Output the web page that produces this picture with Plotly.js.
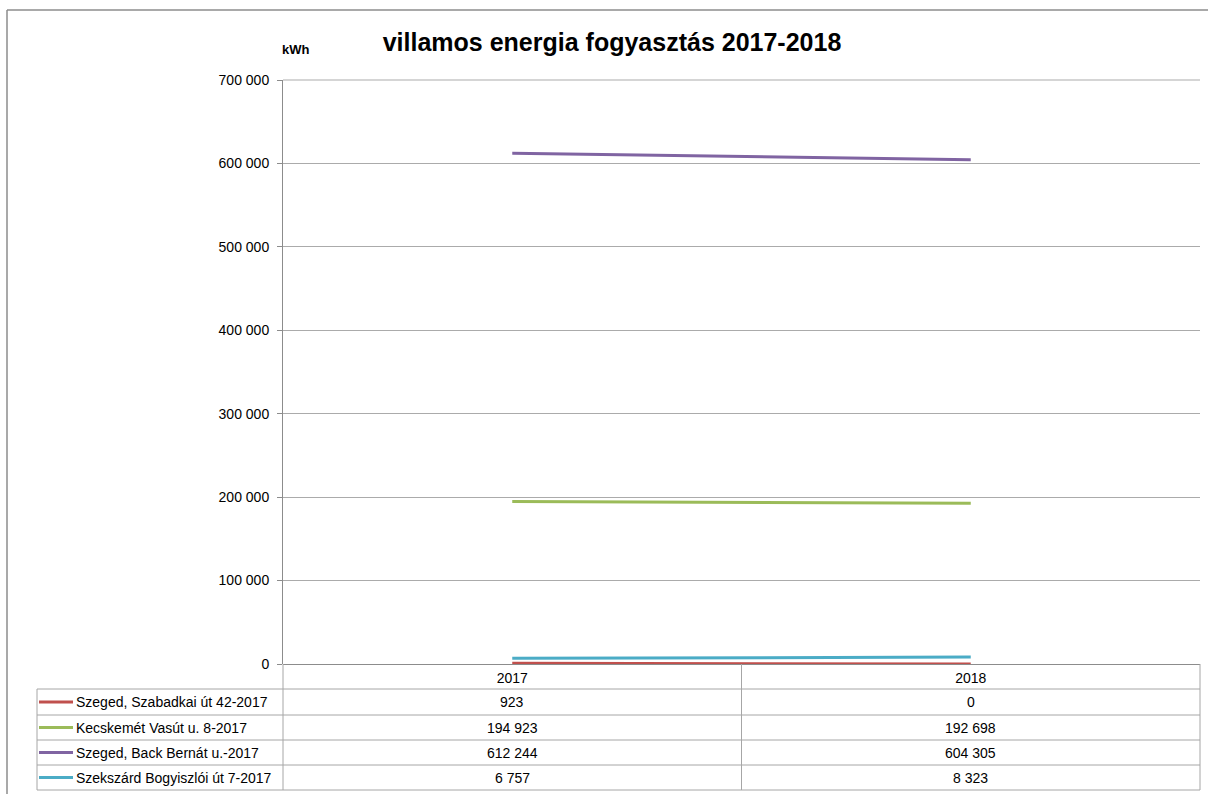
<!DOCTYPE html>
<html>
<head>
<meta charset="utf-8">
<script src="https://cdn.plot.ly/plotly-3.0.1.min.js"></script>
<style>html,body{margin:0;padding:0;background:#fff;}#chart{width:1208px;height:794px;}</style>
</head>
<body>
<div id="chart"></div>
<script>
// ---- data ----
const years = ['2017', '2018'];
const seriesNames = [
  'Szeged, Szabadkai út 42-2017',
  'Kecskemét Vasút u. 8-2017',
  'Szeged, Back Bernát u.-2017',
  'Szekszárd Bogyiszlói út 7-2017'
];
const szabadkai = [923, 0];
const kecskemet = [194923, 192698];
const backBernat = [612244, 604305];
const szekszard = [6757, 8323];
const yTicks = [0, 100000, 200000, 300000, 400000, 500000, 600000, 700000];

// ---- styling ----
const colors = ['#C0504D', '#9BBB59', '#8064A2', '#4BACC6'];
const seriesValues = [szabadkai, kecskemet, backBernat, szekszard];
const FONT = 'Liberation Sans, Arial, sans-serif';

// pixel geometry of plot area
const W = 1208, H = 794;
const L = 283, R = 1200, T = 80, B = 664;
const px = x => (x - L) / (R - L);
const py = y => (B - y) / (B - T);

function fmt(v) {
  return String(v).replace(/\B(?=(\d{3})+(?!\d))/g, '\u00a0');
}

const traces = seriesValues.map((vals, i) => ({
  type: 'scatter',
  mode: 'lines',
  x: years,
  y: vals,
  name: seriesNames[i],
  line: {color: colors[i], width: 3},
  showlegend: false,
  hoverinfo: 'x+y+name'
}));

const gridCol = '#ababab';
const tableCol = '#a6a6a6';
const shapes = [];
const annotations = [];

// outer chart border
shapes.push({type: 'line', xref: 'paper', yref: 'paper', x0: px(7), x1: px(1208), y0: py(10), y1: py(10), line: {color: '#8c8c8c', width: 1.5}});
shapes.push({type: 'line', xref: 'paper', yref: 'paper', x0: px(7), x1: px(7), y0: py(10), y1: py(794), line: {color: '#8c8c8c', width: 1.5}});

// table geometry
const rowTops = [689, 715, 740, 765];
const rowBottom = 790;
const labelLeft = 37;
// vertical lines
[L, (L + R) / 2, R].forEach(x => {
  shapes.push({type: 'line', xref: 'paper', yref: 'paper', x0: px(x), x1: px(x), y0: py(B), y1: py(rowBottom), line: {color: tableCol, width: 1}});
});
shapes.push({type: 'line', xref: 'paper', yref: 'paper', x0: px(labelLeft), x1: px(labelLeft), y0: py(rowTops[0]), y1: py(rowBottom), line: {color: tableCol, width: 1}});
// horizontal lines
rowTops.concat([rowBottom]).forEach(y => {
  shapes.push({type: 'line', xref: 'paper', yref: 'paper', x0: px(labelLeft), x1: px(R), y0: py(y), y1: py(y), line: {color: tableCol, width: 1}});
});

// column centres (paper) for each category
const colCenters = years.map((yr, j) => (j + 0.5) / years.length);

seriesNames.forEach((name, i) => {
  const yc = (rowTops[i] + (i + 1 < rowTops.length ? rowTops[i + 1] : rowBottom)) / 2;
  // legend key
  shapes.push({type: 'line', xref: 'paper', yref: 'paper', x0: px(39), x1: px(73), y0: py(yc), y1: py(yc), line: {color: colors[i], width: 3}});
  annotations.push({xref: 'paper', yref: 'paper', x: px(74), y: py(yc), text: name, showarrow: false, xanchor: 'left', yanchor: 'middle', font: {family: FONT, size: 14, color: '#000'}});
  years.forEach((yr, j) => {
    annotations.push({xref: 'paper', yref: 'paper', x: colCenters[j], y: py(yc), text: fmt(seriesValues[i][j]), showarrow: false, xanchor: 'center', yanchor: 'middle', font: {family: FONT, size: 14, color: '#000'}});
  });
});

// kWh unit label
annotations.push({xref: 'paper', yref: 'paper', x: px(280), y: py(50), text: '<b>kWh</b>', showarrow: false, xanchor: 'left', yanchor: 'middle', font: {family: FONT, size: 13, color: '#000'}});

const layout = {
  width: W, height: H,
  margin: {l: L, r: W - R, t: T, b: H - B, pad: 0},
  paper_bgcolor: '#fff', plot_bgcolor: '#fff',
  separators: ',\u00a0',
  title: {text: '<b>villamos energia fogyasztás 2017-2018</b>', x: 612 / W, xanchor: 'center', y: 1 - 42 / H, yanchor: 'middle', font: {family: FONT, size: 25, color: '#000'}},
  xaxis: {
    type: 'category', range: [-0.5, 1.5],
    showgrid: false, zeroline: false, showline: false,
    ticks: '', tickfont: {family: FONT, size: 14, color: '#000'},
    ticklabelstandoff: 4,
    fixedrange: true
  },
  yaxis: {
    range: [0, 700000], tickvals: yTicks, tickformat: ',d',
    showgrid: true, gridcolor: gridCol, gridwidth: 1,
    zeroline: true, zerolinecolor: '#8c8c8c', zerolinewidth: 1,
    showline: true, linecolor: '#8c8c8c', linewidth: 1,
    ticks: 'outside', ticklen: 5, tickcolor: '#8c8c8c',
    ticklabelstandoff: 5,
    tickfont: {family: FONT, size: 14, color: '#000'},
    fixedrange: true
  },
  shapes: shapes,
  annotations: annotations,
  showlegend: false
};

// top border of plot area
shapes.push({type: 'line', xref: 'paper', yref: 'paper', x0: 0, x1: 1, y0: 1, y1: 1, line: {color: gridCol, width: 1}});

Plotly.newPlot('chart', traces, layout, {displayModeBar: false, staticPlot: true});
</script>
</body>
</html>
